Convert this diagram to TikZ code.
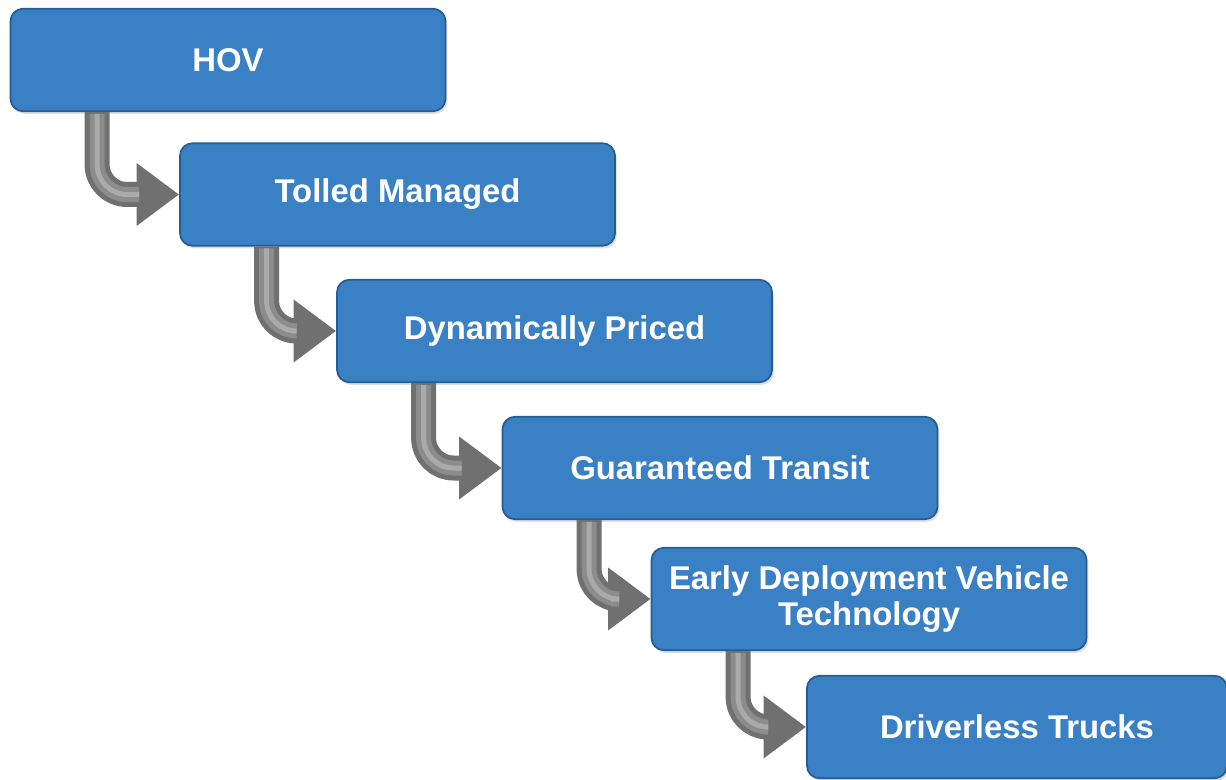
\documentclass[tikz,border=0pt]{standalone}
\usepackage{fontspec}
\setmainfont{Liberation Sans}
\usetikzlibrary{arrows.meta,shadows}

\definecolor{stepblue}{RGB}{58,128,196}
\definecolor{stepedge}{RGB}{38,92,148}
\definecolor{arrowgray}{RGB}{112,112,112}
\definecolor{arrowmid}{RGB}{140,140,140}
\definecolor{arrowshine}{RGB}{170,170,170}

\tikzset{
  stepbox/.style={rectangle, rounded corners=0.25cm, fill=stepblue, draw=stepedge,
    line width=1pt, minimum width=8.7cm, minimum height=2.05cm, text=white,
    font=\fontsize{18.7}{20.5}\selectfont\bfseries, align=center,
    drop shadow={opacity=0.25, shadow xshift=1pt, shadow yshift=-1.5pt}},
  flowarrow/.style={draw=arrowgray, line width=0.5cm, rounded corners=0.6cm,
    -{Triangle[length=0.85cm, width=1.2cm]}},
  flowmid/.style={draw=arrowmid, line width=0.3cm, rounded corners=0.6cm},
  flowshine/.style={draw=arrowshine, line width=0.1cm, rounded corners=0.6cm}
}

\begin{document}
\begin{tikzpicture}
  \useasboundingbox (0,0) rectangle (24.52,-15.6);

  % the steps
  \node [stepbox] (hov)     at (4.56,-1.20)  {HOV};
  \node [stepbox] (tolled)  at (7.95,-3.89)  {Tolled Managed};
  \node [stepbox] (priced)  at (11.09,-6.62) {Dynamically Priced};
  \node [stepbox] (transit) at (14.40,-9.36) {Guaranteed Transit};
  \node [stepbox] (early)   at (17.38,-11.98) {Early Deployment Vehicle\\Technology};
  \node [stepbox, minimum width=8.4cm] (trucks) at (20.34,-14.54) {Driverless Trucks};

  % bent arrows from one step down to the next
  \foreach \a/\b in {hov/tolled, tolled/priced, priced/transit, transit/early, early/trucks} {
    \draw [flowarrow] ([xshift=1.75cm]\a.south west) |- (\b.west);
    \draw [flowmid] ([xshift=1.75cm, yshift=-1pt]\a.south west) |- ([xshift=-0.8cm]\b.west);
    \draw [flowshine] ([xshift=1.75cm, yshift=-1pt]\a.south west) |- ([xshift=-0.8cm]\b.west);
  }
\end{tikzpicture}
\end{document}
